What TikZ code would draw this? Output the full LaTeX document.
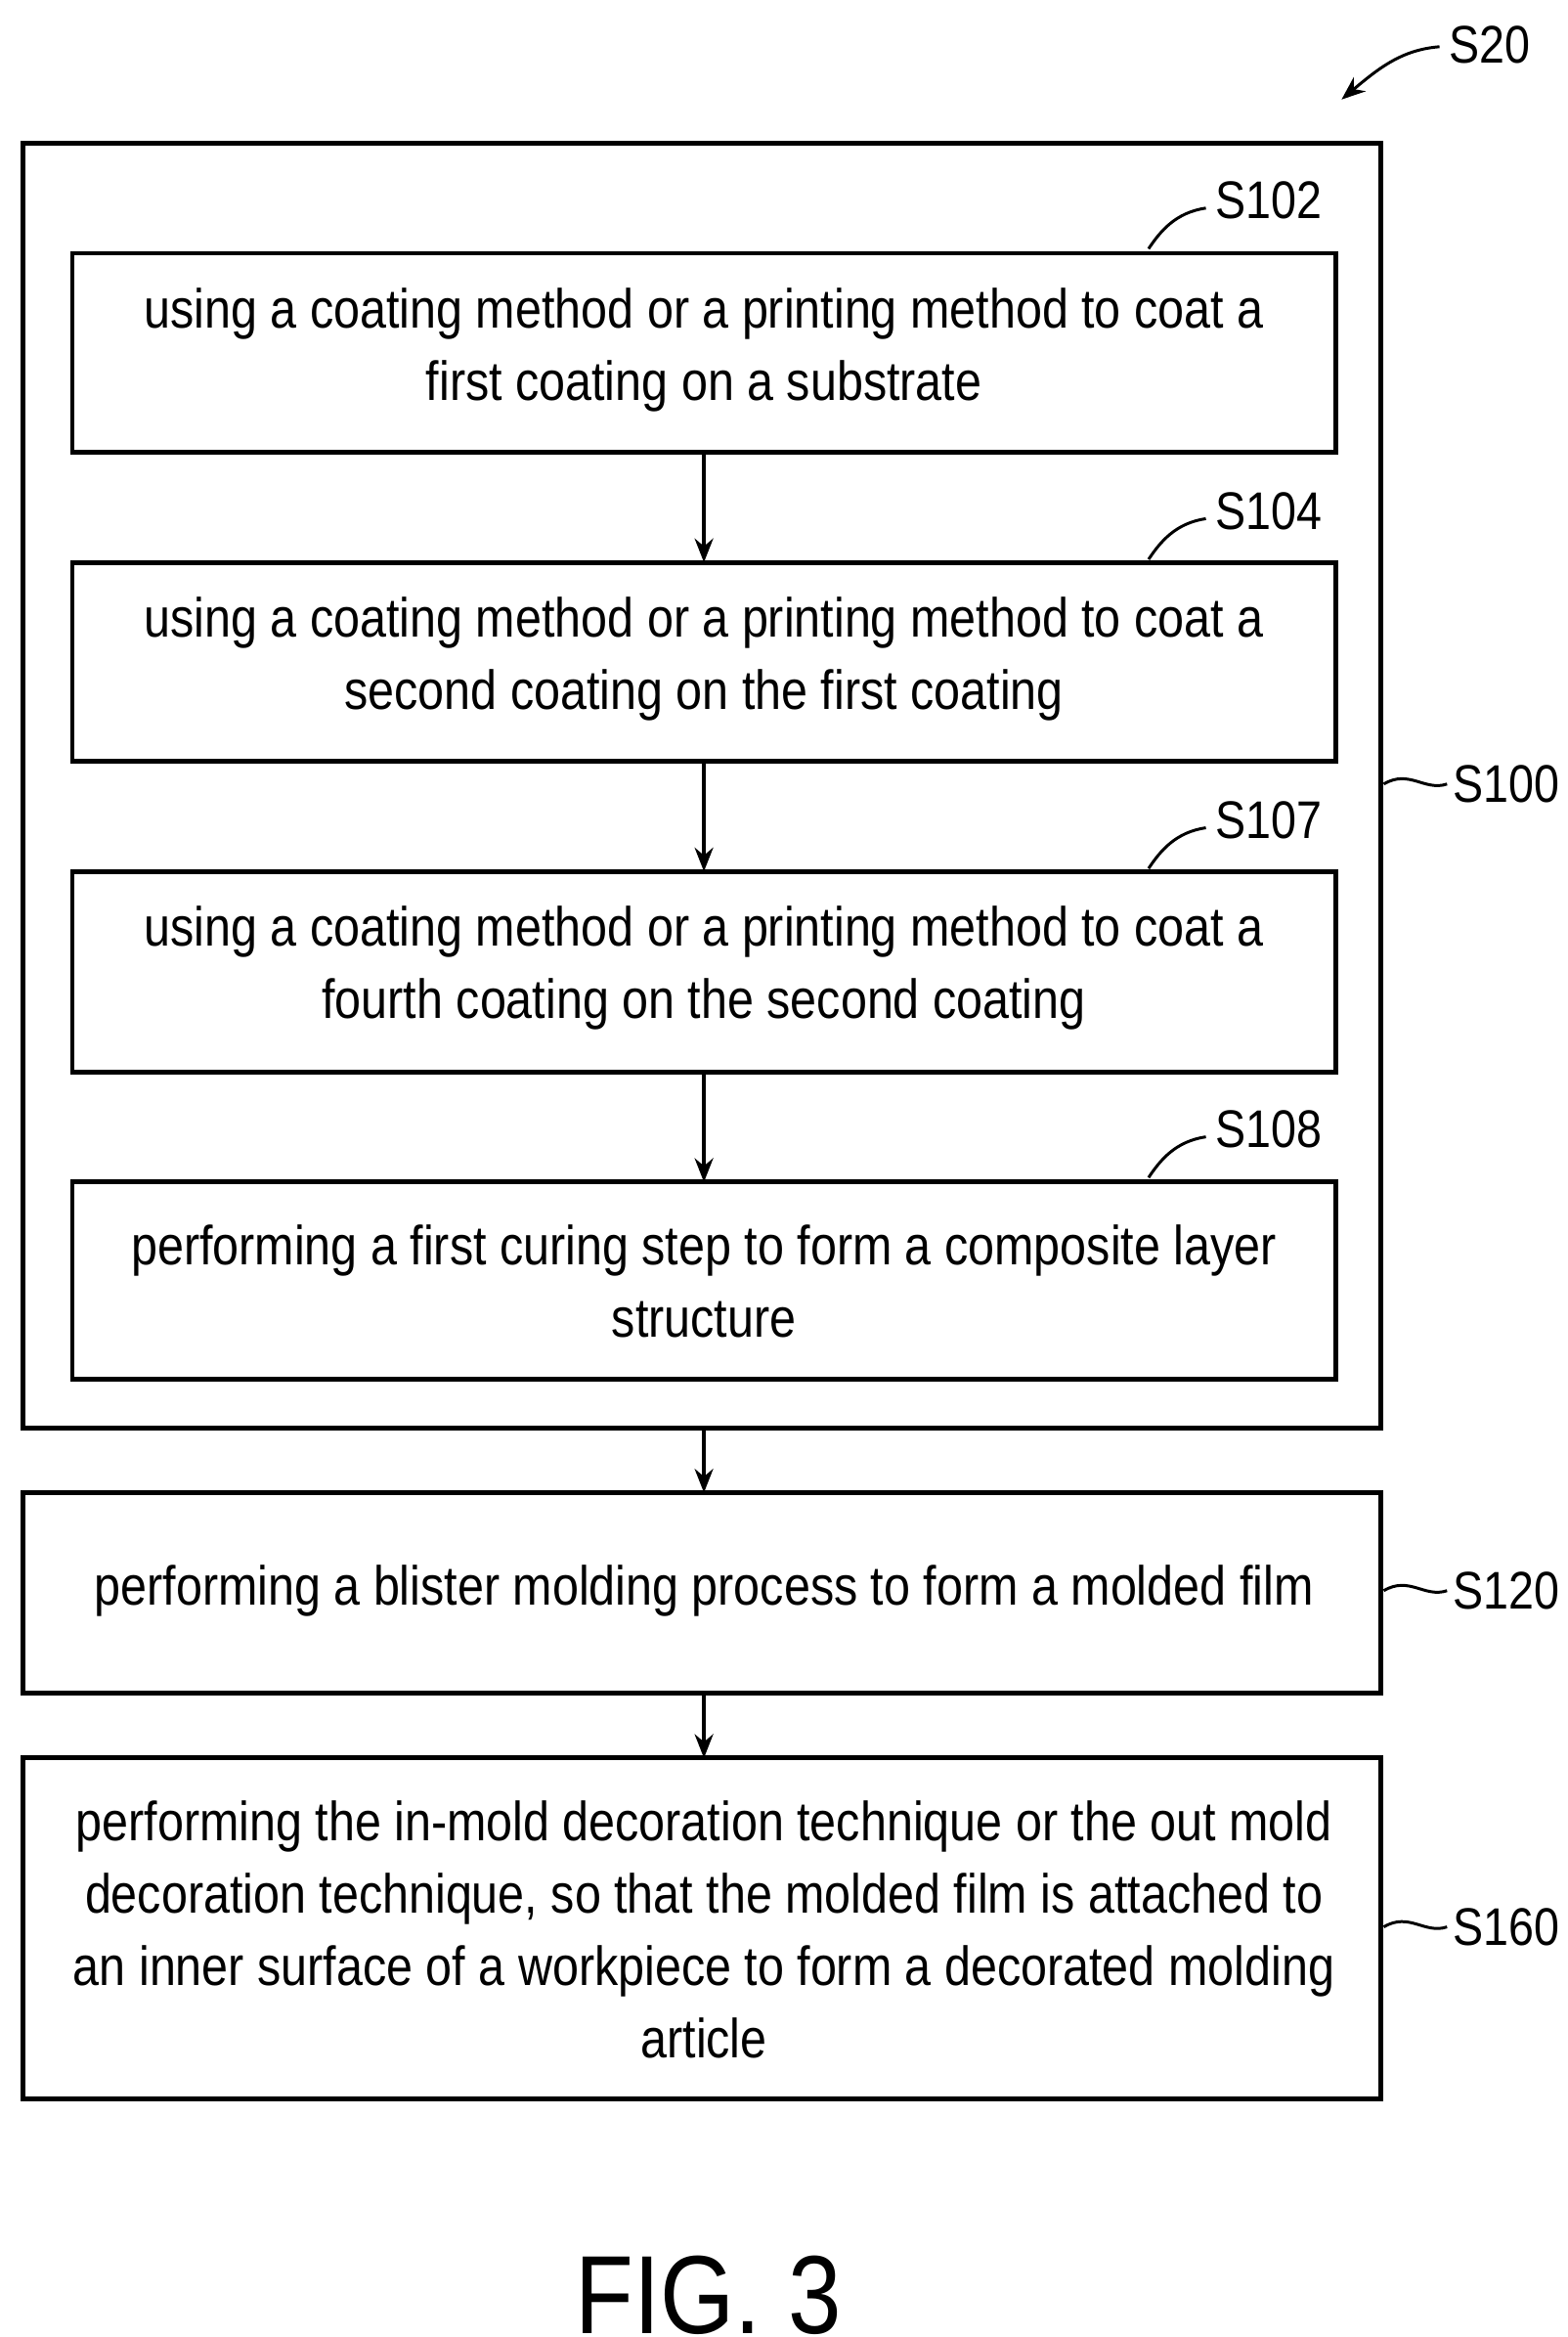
\documentclass[tikz,border=0pt]{standalone}
\usepackage{fontspec}
\setmainfont{Liberation Sans}[FakeStretch=0.86]
\usetikzlibrary{arrows.meta}
\begin{document}
\begin{tikzpicture}[x=0.02cm,y=-0.02cm,
 box/.style={draw,line width=1.8pt,inner sep=0,align=center},
 txt/.style={align=center,font=\fontsize{20.8}{27.3}\selectfont},
 lab/.style={font=\fontsize{20}{24}\selectfont},
 arr/.style={-{Stealth[length=9pt,width=7pt]},line width=1.3pt},
 sq/.style={line width=1.1pt}]
\useasboundingbox (0,0) rectangle (1040,1550);
\draw[box] (15,95) rectangle (916,947) coordinate (o);
\draw[box] (48,168) rectangle (886,300);
\draw[box] (48,373) rectangle (886,505);
\draw[box] (48,578) rectangle (886,711);
\draw[box] (48,784) rectangle (886,915);
\draw[box] (15,990) rectangle (916,1123);
\draw[box] (15,1166) rectangle (916,1392);
\node[txt] (a) at (467,232) {using a coating method or a printing method to coat a\\first coating on a substrate};
\node[txt] (b) at (467,437) {using a coating method or a printing method to coat a\\second coating on the first coating};
\node[txt] (c) at (467,642) {using a coating method or a printing method to coat a\\fourth coating on the second coating};
\node[txt] (d) at (467,850) {performing a first curing step to form a composite layer\\structure};
\node[txt] (e) at (467,1055) {performing a blister molding process to form a molded film};
\node[txt] (f) at (467,1280) {performing the in-mold decoration technique or the out mold\\decoration technique, so that the molded film is attached to\\an inner surface of a workpiece to form a decorated molding\\article};
\coordinate (p1) at (467,300); \coordinate (q1) at (467,373);
\coordinate (p2) at (467,505); \coordinate (q2) at (467,578);
\coordinate (p3) at (467,711); \coordinate (q3) at (467,784);
\coordinate (p4) at (467,947); \coordinate (q4) at (467,990);
\coordinate (p5) at (467,1123); \coordinate (q5) at (467,1166);
\foreach \i in {1,...,5} \draw[arr] (p\i) -- (q\i);
\foreach \y/\t in {133/S102,339/S104,544/S107,749/S108}{
 \node[lab,anchor=west] (l\t) at (800,\y) {\t};
 \draw[sq] (762,\y+32) .. controls (770,\y+20) and (780,\y+8) .. (800,\y+5);
}
\foreach \y/\t in {520/S100,1055/S120,1278/S160}{
 \node[lab,anchor=west] (m\t) at (958,\y) {\t};
 \draw[sq] (918,\y) .. controls (935,\y-10) and (945,\y+5) .. (960,\y);
}
\node[lab,anchor=west] (s20) at (955,30) {S20};
\coordinate (s20a) at (955,31);
\coordinate (s20b) at (890,66);
\draw[-{Stealth[length=9pt,width=7pt]},line width=1.1pt] (s20a) .. controls (930,33) and (915,45) .. (s20b);
\node[font=\fontsize{42}{48}\selectfont] (fig) at (470,1522) {FIG. 3};
\end{tikzpicture}
\end{document}
